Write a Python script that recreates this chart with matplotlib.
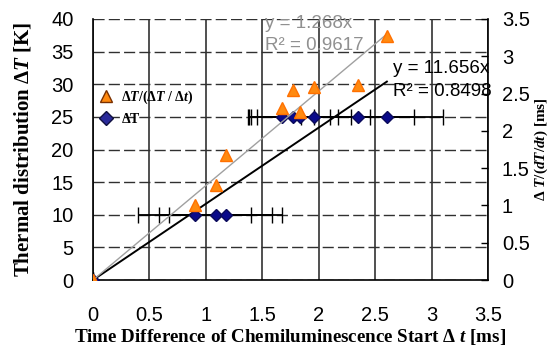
import matplotlib
matplotlib.use("Agg")
import matplotlib.pyplot as plt
from matplotlib.lines import Line2D
import numpy as np

# time difference of chemiluminescence start [ms]
dt = [0.0, 0.903, 1.087, 1.175, 1.677, 1.774, 1.834, 1.957, 2.345, 2.604]
# thermal distribution dT [K]
dT = [0, 10, 10, 10, 25, 25, 25, 25, 25, 25]
# horizontal error on dt [ms]
dt_err = [0.0, 0.5, 0.5, 0.5, 0.28, 0.40, 0.45, 0.5, 0.5, 0.5]
# dT/(dT/dt) [ms]
ratio = [0.0, 1.01, 1.28, 1.68, 2.30, 2.55, 2.25, 2.59, 2.61, 3.27]

fit_black = ["y = 11.656x", "R\u00b2 = 0.8498"]
fit_gray = ["y = 1.268x", "R\u00b2 = 0.9617"]

plt.rcParams['mathtext.fontset'] = 'custom'
plt.rcParams['mathtext.rm'] = 'Liberation Serif:bold'
plt.rcParams['mathtext.bf'] = 'Liberation Serif:bold'
plt.rcParams['mathtext.it'] = 'Liberation Serif:bold:italic'

sans = 'Liberation Sans'
serif = 'Liberation Serif'
tick_fs = 14.5
fit_fs = 13.5

fig = plt.figure(figsize=(5.52, 3.48), dpi=100)
ax = fig.add_axes([93/552, 1-280/348, 395/552, 261/348])
ax2 = ax.twinx()

x = np.array(dt)
y = np.array(dT, dtype=float)
r = np.array(ratio)

# trendlines through origin (least squares)
k1 = np.sum(x*y)/np.sum(x*x)
k2 = np.sum(x*r)/np.sum(x*x)
xx = np.array([0, x.max()])
ax.plot(xx, k1*xx, color='black', lw=1.4, zorder=3)
ax2.plot(xx, k2*xx, color='#a0a0a0', lw=1.0, zorder=3)

ax.errorbar(x, y, xerr=dt_err, fmt='D', color='#0a0a8a', mec='#0a0a5a',
            ms=6.5, ecolor='black', elinewidth=1.3, capsize=5.5, capthick=1.0,
            zorder=4)
ax2.plot(x, r, '^', color='#ff8a10', mec='#ff7000', ms=8, ls='none', zorder=5)

ax.set_xlim(0, 3.5)
ax.set_ylim(0, 40)
ax2.set_ylim(0, 3.5)
ax.set_xticks(np.arange(0, 3.51, 0.5))
ax.set_xticklabels(['0', '0.5', '1', '1.5', '2', '2.5', '3', '3.5'])
ax.set_yticks(np.arange(0, 41, 5))
ax2.set_yticks(np.arange(0, 3.51, 0.5))
ax2.set_yticklabels(['0', '0.5', '1', '1.5', '2', '2.5', '3', '3.5'])

ax.set_axisbelow(True)
ax.xaxis.grid(True, color='#202020', lw=1.1, ls='-')
ax.yaxis.grid(True, color='#303030', lw=1.0, ls=(0, (8, 3)))

ax.tick_params(axis='x', length=0, pad=19, labelsize=tick_fs)
ax.tick_params(axis='y', length=0, pad=14, labelsize=tick_fs)
ax2.tick_params(axis='y', direction='in', length=5, width=1, pad=10,
                labelsize=tick_fs)
for lab in ax.get_xticklabels() + ax.get_yticklabels() + ax2.get_yticklabels():
    lab.set_fontfamily(sans)

ax.spines['top'].set_visible(False)
ax.spines['right'].set_visible(False)
for s in ['top', 'left', 'bottom']:
    ax2.spines[s].set_visible(False)
for sp in [ax.spines['left'], ax.spines['bottom'], ax2.spines['right']]:
    sp.set_linewidth(1.2)
    sp.set_color('black')

ax.set_xlabel(r'Time Difference of Chemiluminescence Start $\mathit{\Delta\ t}$ [ms]',
              family=serif, weight='bold', fontsize=13.7, labelpad=1)
ax.set_ylabel(r'Thermal distribution $\mathit{\Delta T}$ [K]',
              family=serif, weight='bold', fontsize=15, labelpad=13)
ax2.set_ylabel(r'$\mathit{\Delta\ T/(dT/dt)}$ [ms]',
               family=serif, weight='bold', fontsize=11, labelpad=2)

# trendline equations
ax.text(0.435, 0.981, fit_gray[0], transform=ax.transAxes, color='#909090',
        family=sans, fontsize=fit_fs, va='center', ha='left', zorder=6)
ax.text(0.435, 0.897, fit_gray[1], transform=ax.transAxes, color='#909090',
        family=sans, fontsize=fit_fs, va='center', ha='left', zorder=6)
ax2.text(0.759, 0.812, fit_black[0], transform=ax.transAxes, color='black',
         family=sans, fontsize=fit_fs, va='center', ha='left', zorder=6)
ax2.text(0.759, 0.724, fit_black[1], transform=ax.transAxes, color='black',
         family=sans, fontsize=fit_fs, va='center', ha='left', zorder=6)

handles = [Line2D([], [], marker='^', ls='none', color='#ff8a10', mec='#7a3000',
                  ms=8),
           Line2D([], [], marker='D', ls='none', color='#2a2a9a', mec='#101040',
                  ms=7)]
leg = ax2.legend(handles, [r'$\Delta T/(\Delta T\ /\ \Delta t)$', r'$\mathrm{\Delta T}$'],
                 loc='upper left', bbox_to_anchor=(0.0, 0.755), frameon=False,
                 handlelength=1.0, handletextpad=0.6, labelspacing=0.45,
                 borderaxespad=0.0, fontsize=10)

fig.savefig('out.png', dpi=100)
